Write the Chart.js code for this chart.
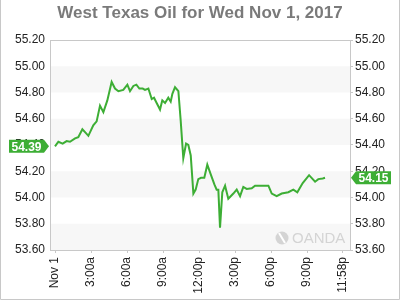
<!DOCTYPE html>
<html>
<head>
<meta charset="utf-8">
<script src="https://cdn.jsdelivr.net/npm/chart.js@4.4.0/dist/chart.umd.min.js"></script>
<style>
  html, body { margin: 0; padding: 0; background: #fff; }
  #wrap { width: 400px; height: 300px; }
</style>
</head>
<body>
<div id="wrap"><canvas id="oilChart" width="400" height="300"></canvas></div>
<script>
// hours since midnight, Nov 1 2017
const hours = [0, 0.28, 0.64, 0.97, 1.25, 1.67, 1.94, 2.28, 2.58, 2.78, 3.19, 3.47, 3.75, 4.03, 4.36, 4.72,
  5.0, 5.28, 5.69, 6.03, 6.25, 6.53, 6.78, 7.03, 7.31, 7.5, 7.78, 8.06, 8.25, 8.47, 8.75, 8.94, 9.17, 9.44,
  9.64, 9.78, 10.0, 10.28, 10.47, 10.69, 10.92, 11.11, 11.31, 11.53, 11.72, 11.94, 12.17, 12.44, 12.69, 13.0,
  13.28, 13.47, 13.61, 13.75, 13.94, 14.17, 14.44, 14.86, 15.14, 15.42, 15.69, 15.97, 16.39, 16.67, 17.78,
  18.06, 18.47, 18.89, 19.44, 19.86, 20.19, 20.64, 21.17, 21.67, 21.94, 22.31, 22.5];
const prices = [54.39, 54.425, 54.41, 54.43, 54.425, 54.45, 54.46, 54.52, 54.49, 54.47, 54.55, 54.58, 54.70, 54.65, 54.74, 54.88,
  54.83, 54.81, 54.82, 54.86, 54.81, 54.85, 54.86, 54.83, 54.83, 54.82, 54.83, 54.75, 54.76, 54.72, 54.67, 54.74, 54.72, 54.76,
  54.73, 54.79, 54.84, 54.81, 54.59, 54.30, 54.41, 54.40, 54.32, 54.03, 54.06, 54.14, 54.15, 54.15, 54.25, 54.17,
  54.10, 54.06, 54.06, 53.77, 54.04, 54.09, 53.99, 54.03, 54.06, 54.01, 54.08, 54.065, 54.07, 54.09, 54.09,
  54.03, 54.01, 54.03, 54.04, 54.06, 54.04, 54.11, 54.17, 54.12, 54.14, 54.145, 54.15];

const xTickHours = [0, 3, 6, 9, 12, 15, 18, 21, 23.967];
const xTickLabels = ['Nov 1', '3:00a', '6:00a', '9:00a', '12:00p', '3:00p', '6:00p', '9:00p', '11:58p'];
const yMin = 53.6, yMax = 55.2, yStep = 0.2;
const openPrice = 54.39;
const lastPrice = 54.15;

const green = '#3dae35';
const axisGrey = '#c8c8c8';
const tickFont = { family: 'Liberation Sans, Arial, sans-serif', size: 12 };

function priceTag(ctx, yPix, text, tipX, side) {
  const h = 13, w = 35;
  ctx.save();
  ctx.fillStyle = green;
  ctx.beginPath();
  if (side === 'left') {
    ctx.moveTo(tipX, yPix);
    ctx.lineTo(tipX - 5, yPix - h / 2);
    ctx.lineTo(tipX - 5 - w, yPix - h / 2);
    ctx.lineTo(tipX - 5 - w, yPix + h / 2);
    ctx.lineTo(tipX - 5, yPix + h / 2);
  } else {
    ctx.moveTo(tipX, yPix);
    ctx.lineTo(tipX + 5, yPix - h / 2);
    ctx.lineTo(tipX + 5 + w, yPix - h / 2);
    ctx.lineTo(tipX + 5 + w, yPix + h / 2);
    ctx.lineTo(tipX + 5, yPix + h / 2);
  }
  ctx.closePath();
  ctx.fill();
  ctx.fillStyle = '#fff';
  ctx.font = 'bold 12px Liberation Sans, Arial, sans-serif';
  ctx.textAlign = 'center';
  ctx.textBaseline = 'middle';
  const cx = side === 'left' ? tipX - 5 - w / 2 : tipX + 5 + w / 2;
  ctx.fillText(text, cx, yPix + 1);
  ctx.restore();
}

const decor = {
  id: 'decor',
  beforeDraw(chart) {
    const { ctx, chartArea: a } = chart;
    const y = chart.scales.y;
    ctx.save();
    // alternating bands
    ctx.fillStyle = '#f7f7f7';
    const ticks = y.ticks.map(t => t.value);
    for (let i = 0; i < ticks.length - 1; i += 2) {
      const top = y.getPixelForValue(ticks[i + 1]);
      const bot = y.getPixelForValue(ticks[i]);
      ctx.fillRect(a.left, top, a.right - a.left, bot - top);
    }
    // watermark
    ctx.fillStyle = '#d4d4d4';
    ctx.beginPath();
    ctx.arc(a.right - 68, a.bottom - 12, 6.5, 0, Math.PI * 2);
    ctx.fill();
    ctx.strokeStyle = '#fff';
    ctx.lineWidth = 2;
    ctx.beginPath();
    ctx.moveTo(a.right - 71, a.bottom - 17);
    ctx.lineTo(a.right - 65, a.bottom - 7);
    ctx.stroke();
    ctx.font = '15px Liberation Sans, Arial, sans-serif';
    ctx.textBaseline = 'middle';
    ctx.fillText('OANDA', a.right - 58, a.bottom - 11);
    ctx.restore();
  },
  afterDraw(chart) {
    const { ctx, chartArea: a, width, height } = chart;
    ctx.save();
    // plot frame top line
    ctx.strokeStyle = axisGrey;
    ctx.lineWidth = 1;
    ctx.beginPath();
    ctx.moveTo(a.left, a.top + 0.5);
    ctx.lineTo(a.right, a.top + 0.5);
    ctx.stroke();
    // outer frame
    ctx.beginPath();
    ctx.moveTo(0.5, 0);
    ctx.lineTo(0.5, height - 0.5);
    ctx.lineTo(width - 0.5, height - 0.5);
    ctx.lineTo(width - 0.5, 0);
    ctx.stroke();
    // title
    ctx.fillStyle = '#7a7a7a';
    ctx.font = 'bold 17px Liberation Sans, Arial, sans-serif';
    ctx.textAlign = 'center';
    ctx.textBaseline = 'middle';
    ctx.fillText('West Texas Oil for Wed Nov 1, 2017', width / 2, 13);
    ctx.restore();
    const y = chart.scales.y;
    priceTag(ctx, y.getPixelForValue(openPrice), openPrice.toFixed(2), a.left - 1, 'left');
    priceTag(ctx, y.getPixelForValue(lastPrice), lastPrice.toFixed(2), a.right + 1, 'right');
  }
};

const yTicks = {
  color: '#222',
  font: tickFont,
  callback: v => v.toFixed(2)
};

const ctx = document.getElementById('oilChart').getContext('2d');
const oilChart = new Chart(ctx, {
  type: 'line',
  data: {
    datasets: [{
      data: hours.map((h, i) => ({ x: h, y: prices[i] })),
      borderColor: green,
      borderWidth: 2,
      pointRadius: 0,
      tension: 0,
      fill: false
    }]
  },
  options: {
    responsive: false,
    animation: false,
    layout: { padding: { top: 40, left: 0, right: 0, bottom: 0 } },
    plugins: { legend: { display: false }, tooltip: { enabled: false } },
    scales: {
      x: {
        type: 'linear',
        min: -5 / 12,
        max: 24.58,
        afterBuildTicks: s => { s.ticks = xTickHours.map(v => ({ value: v })); },
        afterFit: s => { s.height = 50; },
        ticks: {
          color: '#222',
          font: tickFont,
          minRotation: 90,
          maxRotation: 90,
          padding: 4,
          autoSkip: false,
          callback: (v, i) => xTickLabels[i]
        },
        grid: { drawOnChartArea: false, tickLength: 3, color: axisGrey },
        border: { color: axisGrey }
      },
      y: {
        position: 'left',
        min: yMin,
        max: yMax,
        afterFit: s => { s.width = 50; },
        ticks: Object.assign({ stepSize: yStep, padding: 5 }, yTicks),
        grid: { drawOnChartArea: false, drawTicks: false, tickLength: 0 },
        border: { color: axisGrey }
      },
      y2: {
        position: 'right',
        min: yMin,
        max: yMax,
        afterFit: s => { s.width = 50; },
        ticks: Object.assign({ stepSize: yStep, padding: 2 }, yTicks),
        grid: { drawOnChartArea: false, tickLength: 3, color: axisGrey },
        border: { color: axisGrey }
      }
    }
  },
  plugins: [decor]
});
</script>
</body>
</html>
